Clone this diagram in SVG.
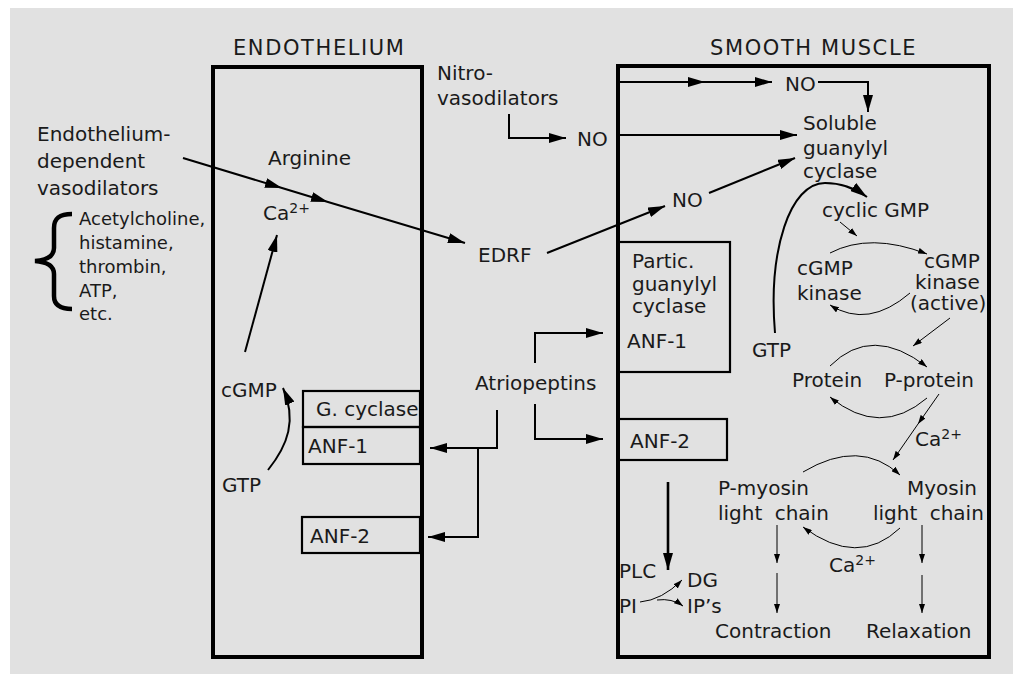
<svg xmlns="http://www.w3.org/2000/svg" width="1013" height="674" viewBox="0 0 1013 674">
<style>
text{font-family:"DejaVu Sans","Liberation Sans",sans-serif;font-size:20px;fill:#1a1a1a}
.sm{font-size:18px}
.title{font-size:21px;letter-spacing:1.6px}
.cell{fill:none;stroke:#000;stroke-width:4}
.box{fill:none;stroke:#000;stroke-width:2.2}
.ln{fill:none;stroke:#000;stroke-width:2}
.thk{fill:none;stroke:#000;stroke-width:2.6}
.thin{fill:none;stroke:#000;stroke-width:1}
</style>
<defs>
<marker id="ah" viewBox="0 0 17 10" refX="17" refY="5" markerWidth="17" markerHeight="10" orient="auto" markerUnits="userSpaceOnUse"><path d="M0,0 L17,5 L0,10 z" fill="#000"/></marker>
<marker id="as" viewBox="0 0 9 6" refX="9" refY="3" markerWidth="9" markerHeight="6" orient="auto" markerUnits="userSpaceOnUse"><path d="M0,0 L9,3 L0,6 z" fill="#000"/></marker>
</defs>
<rect x="10" y="8" width="1003" height="666" fill="#e1e1e1"/>

<g id="endothelium">
<rect class="cell" x="213" y="67" width="209" height="590"/>
<text class="title" x="233" y="55">ENDOTHELIUM</text>
</g>
<g id="smooth-muscle">
<rect class="cell" x="618" y="66" width="371" height="591"/>
<text class="title" x="710" y="55">SMOOTH MUSCLE</text>
</g>

<g id="endo-vasodilators">
<text x="37" y="141">Endothelium-</text>
<text x="37" y="168">dependent</text>
<text x="37" y="195">vasodilators</text>
</g>
<g id="agonist-list">
<path d="M72,214 C60,214 54,218 54,228 L54,248 C54,256 48,260 35,261 C48,262 54,266 54,274 L54,296 C54,305 60,309 72,309" fill="none" stroke="#000" stroke-width="4.5"/>
<text class="sm" x="79" y="225">Acetylcholine,</text>
<text class="sm" x="79" y="249">histamine,</text>
<text class="sm" x="79" y="273">thrombin,</text>
<text class="sm" x="79" y="297">ATP,</text>
<text class="sm" x="79" y="320">etc.</text>
</g>
<g id="arginine"><text x="268" y="165">Arginine</text></g>
<g id="ca-endo"><text x="263" y="220">Ca<tspan dy="-7" font-size="14">2+</tspan></text></g>
<g id="cgmp-endo"><text x="221" y="397">cGMP</text></g>
<g id="gtp-endo"><text x="222" y="492">GTP</text></g>
<g id="g-cyclase"><rect class="box" x="303" y="391" width="117" height="36"/><text x="316" y="416" font-size="15.5">G. cyclase</text></g>
<g id="anf1-endo"><rect class="box" x="303" y="427" width="117" height="37"/><text x="308" y="453">ANF-1</text></g>
<g id="anf2-endo"><rect class="box" x="302" y="517" width="118" height="36"/><text x="310" y="543">ANF-2</text></g>
<g id="edrf"><text x="478" y="262">EDRF</text></g>
<g id="atriopeptins"><text x="475" y="390">Atriopeptins</text></g>
<g id="nitrovasodilators"><text x="437" y="80">Nitro-</text><text x="437" y="105">vasodilators</text></g>
<g id="no-mid"><text x="577" y="146">NO</text></g>
<g id="no-top"><text x="785" y="91">NO</text></g>
<g id="no-low"><text x="672" y="207">NO</text></g>
<g id="soluble-gc"><text x="803" y="130">Soluble</text><text x="803" y="155">guanylyl</text><text x="803" y="178">cyclase</text></g>
<g id="partic-gc">
<rect class="box" x="618" y="242" width="112" height="130"/>
<text x="632" y="268">Partic.</text><text x="632" y="291">guanylyl</text><text x="632" y="313">cyclase</text><text x="627" y="348">ANF-1</text>
</g>
<g id="anf2-sm"><rect class="box" x="618" y="419" width="109" height="41"/><text x="630" y="448">ANF-2</text></g>
<g id="gtp-sm"><text x="752" y="357">GTP</text></g>
<g id="cyclic-gmp"><text x="822" y="217">cyclic GMP</text></g>
<g id="cgmp-kinase"><text x="797" y="275">cGMP</text><text x="797" y="300">kinase</text></g>
<g id="cgmp-kinase-active"><text x="924" y="268" font-size="18.5">cGMP</text><text x="915" y="289" font-size="18.5">kinase</text><text x="910" y="310" font-size="18.5">(active)</text></g>
<g id="protein"><text x="792" y="387">Protein</text></g>
<g id="p-protein"><text x="884" y="387">P-protein</text></g>
<g id="ca-sm1"><text x="915" y="446">Ca<tspan dy="-7" font-size="14">2+</tspan></text></g>
<g id="p-myosin"><text x="718" y="495">P-myosin</text><text x="718" y="520" word-spacing="6">light chain</text></g>
<g id="myosin"><text x="907" y="495">Myosin</text><text x="873" y="520" word-spacing="6">light chain</text></g>
<g id="ca-sm2"><text x="829" y="572">Ca<tspan dy="-7" font-size="14">2+</tspan></text></g>
<g id="plc"><text x="619" y="578">PLC</text><text x="619" y="613">PI</text><text x="687" y="587">DG</text><text x="687" y="613">IP’s</text></g>
<g id="contraction"><text x="715" y="638">Contraction</text></g>
<g id="relaxation"><text x="866" y="638">Relaxation</text></g>

<g id="connectors">
<path class="ln" d="M183,158 L282,188 L328,202 L465,243" marker-mid="url(#ah)" marker-end="url(#ah)"/>
<path class="ln" d="M245,352 L277,235" marker-end="url(#ah)"/>
<path class="ln" d="M268,470 C288,445 297,420 283,388" marker-end="url(#ah)"/>
<path class="ln" d="M535,363 L535,333 L603,333" marker-end="url(#ah)"/>
<path class="ln" d="M535,404 L535,439 L603,439" marker-end="url(#ah)"/>
<path class="ln" d="M497,410 L497,448 L430,448" marker-end="url(#ah)"/>
<path class="ln" d="M478,448 L478,537 L428,537" marker-end="url(#ah)"/>
<path class="ln" d="M509,114 L509,138 L566,138" marker-end="url(#ah)"/>
<path class="ln" d="M619,82 L705,82 L772,82" marker-mid="url(#ah)" marker-end="url(#ah)"/>
<path class="ln" d="M818,82 L868,82 L868,112" marker-end="url(#ah)"/>
<path class="ln" d="M619,135 L797,135" marker-end="url(#ah)"/>
<path class="ln" d="M547,253 L665,206" marker-end="url(#ah)"/>
<path class="ln" d="M709,193 L795,158" marker-end="url(#ah)"/>
<path class="ln" d="M775,333 C768,250 790,183 825,183 C842,183 856,189 867,197" marker-end="url(#ah)"/>
<path class="thk" d="M668,482 L668,570" marker-end="url(#ah)"/>
<path class="thin" d="M840,222 L857,236" marker-end="url(#as)"/>
<path class="thin" d="M830,253 Q870,232 927,254" marker-end="url(#as)"/>
<path class="thin" d="M910,293 Q868,329 830,305" marker-end="url(#as)"/>
<path class="thin" d="M950,318 L913,346" marker-end="url(#as)"/>
<path class="thin" d="M830,366 Q872,324 927,367" marker-end="url(#as)"/>
<path class="thin" d="M927,398 Q880,438 830,397" marker-end="url(#as)"/>
<path class="thin" d="M939,394 L918,424 L893,460" marker-mid="url(#as)" marker-end="url(#as)"/>
<path class="thin" d="M803,472 Q860,438 900,475" marker-end="url(#as)"/>
<path class="thin" d="M900,528 Q858,568 803,527" marker-end="url(#as)"/>
<path class="thin" d="M777,525 L777,563" marker-end="url(#as)"/>
<path class="thin" d="M777,573 L777,613" marker-end="url(#as)"/>
<path class="thin" d="M922,525 L922,563" marker-end="url(#as)"/>
<path class="thin" d="M922,575 L922,613" marker-end="url(#as)"/>
<path class="thin" d="M640,602 Q662,600 682,580" marker-end="url(#as)"/>
<path class="thin" d="M657,600 Q672,598 683,606" marker-end="url(#as)"/>
</g>
</svg>
